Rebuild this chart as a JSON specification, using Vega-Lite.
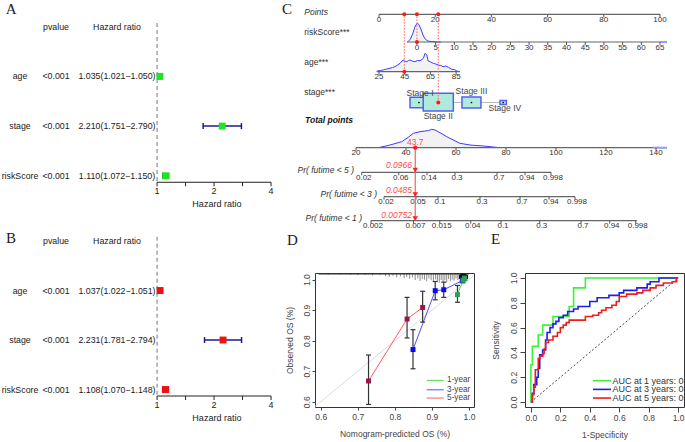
{
"$schema":"https://vega.github.io/schema/vega-lite/v6.json",
"padding":0,
"background":"white",
"config":{"view":{"stroke":null},"font":"Liberation Sans","text":{"font":"Liberation Sans"},"axis":{"labelFont":"Liberation Sans","titleFont":"Liberation Sans","labelOverlap":false,"grid":false,"domain":false,"labelFlush":false}},
"datasets":{
"tabAB":[{"c":0.1965,"row":0,"t":"pvalue"},{"c":0.4105,"row":0,"t":"Hazard ratio"},
{"c":0.0702,"row":1,"t":"age"},{"c":0.1965,"row":1,"t":"<0.001"},{"c":0.4105,"row":1,"t":"1.035(1.021−1.050)"},
{"c":0.0702,"row":2,"t":"stage"},{"c":0.1965,"row":2,"t":"<0.001"},{"c":0.4105,"row":2,"t":"2.210(1.751−2.790)"},
{"c":0.0702,"row":3,"t":"riskScore"},{"c":0.1965,"row":3,"t":"<0.001"},{"c":0.4105,"row":3,"t":"1.110(1.072−1.150)"},
{"c":0.1965,"row":4.306,"t":"pvalue"},{"c":0.4105,"row":4.306,"t":"Hazard ratio"},
{"c":0.0702,"row":5.308,"t":"age"},{"c":0.1965,"row":5.308,"t":"<0.001"},{"c":0.4105,"row":5.308,"t":"1.037(1.022−1.051)"},
{"c":0.0702,"row":6.304,"t":"stage"},{"c":0.1965,"row":6.304,"t":"<0.001"},{"c":0.4105,"row":6.304,"t":"2.231(1.781−2.794)"},
{"c":0.0702,"row":7.30,"t":"riskScore"},{"c":0.1965,"row":7.30,"t":"<0.001"},{"c":0.4105,"row":7.30,"t":"1.108(1.070−1.148)"}],
"lettersAB":[{"c":0.039,"row":-0.36,"t":"A"},{"c":0.039,"row":4.242,"t":"B"}],
"hrAB":[{"panel":"A","row":1,"hr":1.035,"lo":1.021,"hi":1.050},{"panel":"A","row":2,"hr":2.210,"lo":1.751,"hi":2.790},{"panel":"A","row":3,"hr":1.110,"lo":1.072,"hi":1.150},
{"panel":"B","row":5.308,"hr":1.037,"lo":1.022,"hi":1.051},{"panel":"B","row":6.304,"hr":2.231,"lo":1.781,"hi":2.794},{"panel":"B","row":7.30,"hr":1.108,"lo":1.070,"hi":1.148}],
"dashAB":[{"a":1,"top":-0.074,"bot":3.13},{"a":1,"top":4.226,"bot":7.43}],
"axesAB":[{"a":1,"b":4,"row":3.13},{"a":1,"b":4,"row":7.43}],
"ticksAB":[{"v":1,"l":"1","row":3.13},{"v":1.4142,"l":"","row":3.13},{"v":2,"l":"2","row":3.13},{"v":2.8284,"l":"","row":3.13},{"v":4,"l":"4","row":3.13},
{"v":1,"l":"1","row":7.43},{"v":1.4142,"l":"","row":7.43},{"v":2,"l":"2","row":7.43},{"v":2.8284,"l":"","row":7.43},{"v":4,"l":"4","row":7.43}],
"titlesAB":[{"v":2.07,"row":3.13,"t":"Hazard ratio"},{"v":2.07,"row":7.43,"t":"Hazard ratio"}],
"riskDens":[{"pos":10.0,"top":4.2},{"pos":10.3,"top":4.17},{"pos":11.2,"top":3.9},{"pos":12.1,"top":3.3},{"pos":12.9,"top":2.6},{"pos":13.6,"top":2.33},{"pos":14.2,"top":2.45},{"pos":14.9,"top":2.9},{"pos":15.8,"top":3.6},{"pos":16.6,"top":3.95},{"pos":17.4,"top":4.1},{"pos":18.5,"top":4.15},{"pos":20,"top":4.18},{"pos":22,"top":4.2}],
"ageDens":[{"pos":-0.8,"top":7.12},{"pos":0.5,"top":7.05},{"pos":1.5,"top":7.0},{"pos":2.7,"top":6.9},{"pos":3.9,"top":6.83},{"pos":4.8,"top":6.75},{"pos":5.7,"top":6.67},{"pos":6.6,"top":6.5},{"pos":7.5,"top":6.33},{"pos":8.2,"top":6.1},{"pos":8.6,"top":6.0},{"pos":9.2,"top":6.12},{"pos":9.9,"top":6.17},{"pos":10.5,"top":6.05},{"pos":11.0,"top":6.0},{"pos":11.9,"top":6.12},{"pos":12.8,"top":6.17},{"pos":13.7,"top":6.05},{"pos":14.6,"top":6.07},{"pos":15.3,"top":5.95},{"pos":15.8,"top":5.83},{"pos":16.4,"top":5.33},{"pos":17.0,"top":5.5},{"pos":17.5,"top":6.1},{"pos":18.4,"top":6.2},{"pos":19.3,"top":6.33},{"pos":20.2,"top":6.4},{"pos":21.1,"top":6.5},{"pos":22.0,"top":6.55},{"pos":22.8,"top":6.67},{"pos":23.7,"top":6.6},{"pos":24.7,"top":6.73},{"pos":25.9,"top":6.93},{"pos":26.8,"top":6.95},{"pos":27.7,"top":7.1},{"pos":28.8,"top":7.17}],
"upAxes":[{"from":0,"to":100,"lvl":1.43},{"from":10,"to":101,"lvl":4.2},{"from":-0.8,"to":28.8,"lvl":7.17}],
"upTicks":[{"pos":0,"lbl":"0","lvl":1.43},{"pos":20,"lbl":"20","lvl":1.43},{"pos":40,"lbl":"40","lvl":1.43},{"pos":60,"lbl":"60","lvl":1.43},{"pos":80,"lbl":"80","lvl":1.43},{"pos":100,"lbl":"100","lvl":1.43},
{"pos":13.5,"lbl":"0","lvl":4.2},{"pos":20.15,"lbl":"5","lvl":4.2},{"pos":26.81,"lbl":"10","lvl":4.2},{"pos":33.46,"lbl":"15","lvl":4.2},{"pos":40.12,"lbl":"20","lvl":4.2},{"pos":46.77,"lbl":"25","lvl":4.2},{"pos":53.42,"lbl":"30","lvl":4.2},{"pos":60.08,"lbl":"35","lvl":4.2},{"pos":66.73,"lbl":"40","lvl":4.2},{"pos":73.38,"lbl":"45","lvl":4.2},{"pos":80.04,"lbl":"50","lvl":4.2},{"pos":86.69,"lbl":"55","lvl":4.2},{"pos":93.35,"lbl":"60","lvl":4.2},{"pos":100,"lbl":"65","lvl":4.2},
{"pos":0,"lbl":"25","lvl":7.17},{"pos":9.15,"lbl":"45","lvl":7.17},{"pos":18.3,"lbl":"65","lvl":7.17},{"pos":27.45,"lbl":"85","lvl":7.17}],
"rowLab":[{"pos":-26.6,"lvl":3.15,"t":"riskScore***"},{"pos":-26.6,"lvl":6.2,"t":"age***"},{"pos":-26.6,"lvl":9.2,"t":"stage***"}],
"stage":[{"stage":"Stage I","pos":14.2,"n":70,"lvl":10.25,"lp":14.6,"ll":9.3},{"stage":"Stage II","pos":21.1,"n":200,"lvl":10.22,"lp":21.1,"ll":11.6},{"stage":"Stage III","pos":32.9,"n":80,"lvl":10.25,"lp":32.9,"ll":9.1},{"stage":"Stage IV","pos":44.2,"n":9,"lvl":10.25,"lp":44.8,"ll":10.77}],
"redUp":[{"pos":13.5,"lvl":4.2},{"pos":9.0,"lvl":7.17},{"pos":21.1,"lvl":10.25}],
"redDots":[{"pos":9.0,"lvl":1.43},{"pos":13.5,"lvl":1.43},{"pos":21.1,"lvl":1.43},{"pos":13.5,"lvl":4.2},{"pos":9.0,"lvl":7.17},{"pos":21.1,"lvl":10.25}],
"totDens":[{"pos":28.9,"top":14.77},{"pos":33.6,"top":14.5},{"pos":38.3,"top":14.17},{"pos":40.9,"top":13.73},{"pos":42.9,"top":13.33},{"pos":45.6,"top":13.17},{"pos":47.6,"top":13.1},{"pos":48.9,"top":13.07},{"pos":50.3,"top":12.93},{"pos":51.6,"top":13.0},{"pos":53.6,"top":13.27},{"pos":56.3,"top":13.67},{"pos":58.9,"top":14.0},{"pos":61.6,"top":14.33},{"pos":65.6,"top":14.5},{"pos":70.9,"top":14.6},{"pos":73.6,"top":14.67},{"pos":77.6,"top":14.77}],
"lowAxes":[{"from":20,"to":144.4,"lvl":14.77},{"from":22.3,"to":98,"lvl":17.23},{"from":31.2,"to":107.6,"lvl":19.67},{"from":26,"to":132.3,"lvl":22.07}],
"totTicks":[{"pos":20,"lbl":"20","lvl":14.77},{"pos":40,"lbl":"40","lvl":14.77},{"pos":60,"lbl":"60","lvl":14.77},{"pos":80,"lbl":"80","lvl":14.77},{"pos":100,"lbl":"100","lvl":14.77},{"pos":120,"lbl":"120","lvl":14.77},{"pos":140,"lbl":"140","lvl":14.77}],
"prTicks":[{"pos":22.3,"lbl":"0.02","lvl":17.23},{"pos":37.1,"lbl":"0.06","lvl":17.23},{"pos":48.4,"lbl":"0.14","lvl":17.23},{"pos":59.6,"lbl":"0.3","lvl":17.23},{"pos":76.4,"lbl":"0.7","lvl":17.23},{"pos":87.6,"lbl":"0.94","lvl":17.23},{"pos":98,"lbl":"0.998","lvl":17.23},
{"pos":31.2,"lbl":"0.02","lvl":19.67},{"pos":44.0,"lbl":"0.05","lvl":19.67},{"pos":52.8,"lbl":"0.1","lvl":19.67},{"pos":69.6,"lbl":"0.3","lvl":19.67},{"pos":85.6,"lbl":"0.7","lvl":19.67},{"pos":97.2,"lbl":"0.94","lvl":19.67},{"pos":107.6,"lbl":"0.998","lvl":19.67},
{"pos":26,"lbl":"0.002","lvl":22.07},{"pos":43.0,"lbl":"0.007","lvl":22.07},{"pos":53.5,"lbl":"0.015","lvl":22.07},{"pos":65.9,"lbl":"0.04","lvl":22.07},{"pos":78,"lbl":"0.1","lvl":22.07},{"pos":93.5,"lbl":"0.3","lvl":22.07},{"pos":110,"lbl":"0.7","lvl":22.07},{"pos":121.5,"lbl":"0.94","lvl":22.07},{"pos":131.9,"lbl":"0.998","lvl":22.07}],
"prLab":[{"pos":19.2,"lvl":17.0,"t":"Pr( futime < 5 )"},{"pos":28.4,"lvl":19.43,"t":"Pr( futime < 3 )"},{"pos":22.4,"lvl":21.83,"t":"Pr( futime < 1 )"}],
"prVal":[{"pos":42.4,"lvl":16.5,"t":"0.0966"},{"pos":42.4,"lvl":19.0,"t":"0.0485"},{"pos":42.4,"lvl":21.5,"t":"0.00752"}],
"tri":[{"pos":43.7,"lvl":17.02},{"pos":43.7,"lvl":19.46},{"pos":43.7,"lvl":21.86}],
"dCal":[{"g":"5-year","x":0.729,"y":0.668,"lo":0.591,"hi":0.753},{"g":"5-year","x":0.833,"y":0.871,"lo":0.809,"hi":0.942},{"g":"5-year","x":0.875,"y":0.909,"lo":0.861,"hi":0.962},
{"g":"3-year","x":0.849,"y":0.771,"lo":0.708,"hi":0.836},{"g":"3-year","x":0.909,"y":0.964,"lo":0.934,"hi":0.994},{"g":"3-year","x":0.932,"y":0.967,"lo":0.942,"hi":0.992},{"g":"3-year","x":0.982,"y":0.997,"lo":0.99,"hi":1.004},
{"g":"1-year","x":0.969,"y":0.951,"lo":0.926,"hi":0.981},{"g":"1-year","x":0.984,"y":0.998,"lo":0.993,"hi":1.003},{"g":"1-year","x":0.988,"y":1.005,"lo":1.0,"hi":1.01}],
"dRug":[{"p":0.62,"lo":1.016},{"p":0.65,"lo":1.017},{"p":0.68,"lo":1.016},{"p":0.70,"lo":1.015},{"p":0.72,"lo":1.016},{"p":0.74,"lo":1.014},{"p":0.76,"lo":1.015},{"p":0.775,"lo":1.012},{"p":0.785,"lo":1.009},{"p":0.795,"lo":1.013},{"p":0.805,"lo":1.008},{"p":0.815,"lo":1.011},{"p":0.825,"lo":1.005},{"p":0.832,"lo":1.009},{"p":0.84,"lo":1.003},{"p":0.848,"lo":1.007},{"p":0.855,"lo":0.999},{"p":0.862,"lo":1.004},{"p":0.868,"lo":0.996},{"p":0.874,"lo":1.002},{"p":0.88,"lo":1.0},{"p":0.886,"lo":0.995},{"p":0.892,"lo":1.004},{"p":0.898,"lo":0.998},{"p":0.904,"lo":0.992},{"p":0.91,"lo":1.001},{"p":0.915,"lo":0.996},{"p":0.92,"lo":0.99},{"p":0.925,"lo":0.999},{"p":0.93,"lo":0.993},{"p":0.935,"lo":0.998},{"p":0.94,"lo":0.992},{"p":0.945,"lo":1.002},{"p":0.95,"lo":0.995},{"p":0.955,"lo":1.0},{"p":0.96,"lo":0.997},{"p":0.965,"lo":1.004},{"p":0.97,"lo":0.999},{"p":0.975,"lo":1.005},{"p":0.98,"lo":1.001},{"p":0.985,"lo":1.004}],
"dBlack":[{"x":0.978,"y":1.009},{"x":0.982,"y":1.013},{"x":0.985,"y":1.006},{"x":0.988,"y":1.012},{"x":0.99,"y":1.003},{"x":0.992,"y":1.009}],
"dLeg":[{"g":"1-year","y":0.670,"a":0.886,"b":0.932,"tx":0.941},{"g":"3-year","y":0.639,"a":0.886,"b":0.932,"tx":0.941},{"g":"5-year","y":0.612,"a":0.886,"b":0.932,"tx":0.941}],
"eLeg":[{"g":"1-year","t":"AUC at 1 years: 0.847","y":0.172,"a":0.422,"b":0.544,"tx":0.555},{"g":"3-year","t":"AUC at 3 years: 0.781","y":0.102,"a":0.422,"b":0.544,"tx":0.555},{"g":"5-year","t":"AUC at 5 years: 0.736","y":0.032,"a":0.422,"b":0.544,"tx":0.555}],
"eRoc":[
{"g":"1-year","i":0,"x":0,"y":0},{"g":"1-year","i":1,"x":0,"y":0.3},{"g":"1-year","i":2,"x":0.01,"y":0.3},{"g":"1-year","i":3,"x":0.01,"y":0.45},{"g":"1-year","i":4,"x":0.05,"y":0.45},{"g":"1-year","i":5,"x":0.05,"y":0.54},{"g":"1-year","i":6,"x":0.08,"y":0.54},{"g":"1-year","i":7,"x":0.08,"y":0.62},{"g":"1-year","i":8,"x":0.15,"y":0.62},{"g":"1-year","i":9,"x":0.15,"y":0.69},{"g":"1-year","i":10,"x":0.26,"y":0.69},{"g":"1-year","i":11,"x":0.26,"y":0.77},{"g":"1-year","i":12,"x":0.29,"y":0.77},{"g":"1-year","i":13,"x":0.29,"y":0.92},{"g":"1-year","i":14,"x":0.37,"y":0.92},{"g":"1-year","i":15,"x":0.37,"y":1.0},{"g":"1-year","i":16,"x":1.0,"y":1.0},
{"g":"3-year","i":0,"x":0,"y":0},{"g":"3-year","i":1,"x":0.01,"y":0.0},{"g":"3-year","i":2,"x":0.01,"y":0.07},{"g":"3-year","i":3,"x":0.02,"y":0.07},{"g":"3-year","i":4,"x":0.02,"y":0.14},{"g":"3-year","i":5,"x":0.04,"y":0.14},{"g":"3-year","i":6,"x":0.04,"y":0.2},{"g":"3-year","i":7,"x":0.05,"y":0.2},{"g":"3-year","i":8,"x":0.05,"y":0.27},{"g":"3-year","i":9,"x":0.06,"y":0.27},{"g":"3-year","i":10,"x":0.06,"y":0.38},{"g":"3-year","i":11,"x":0.08,"y":0.38},{"g":"3-year","i":12,"x":0.08,"y":0.42},{"g":"3-year","i":13,"x":0.1,"y":0.42},{"g":"3-year","i":14,"x":0.1,"y":0.5},{"g":"3-year","i":15,"x":0.11,"y":0.5},{"g":"3-year","i":16,"x":0.11,"y":0.56},{"g":"3-year","i":17,"x":0.13,"y":0.56},{"g":"3-year","i":18,"x":0.13,"y":0.6},{"g":"3-year","i":19,"x":0.15,"y":0.6},{"g":"3-year","i":20,"x":0.15,"y":0.63},{"g":"3-year","i":21,"x":0.17,"y":0.63},{"g":"3-year","i":22,"x":0.17,"y":0.65},{"g":"3-year","i":23,"x":0.19,"y":0.65},{"g":"3-year","i":24,"x":0.19,"y":0.68},{"g":"3-year","i":25,"x":0.22,"y":0.68},{"g":"3-year","i":26,"x":0.22,"y":0.7},{"g":"3-year","i":27,"x":0.25,"y":0.7},{"g":"3-year","i":28,"x":0.25,"y":0.73},{"g":"3-year","i":29,"x":0.29,"y":0.73},{"g":"3-year","i":30,"x":0.29,"y":0.75},{"g":"3-year","i":31,"x":0.32,"y":0.75},{"g":"3-year","i":32,"x":0.32,"y":0.77},{"g":"3-year","i":33,"x":0.4,"y":0.77},{"g":"3-year","i":34,"x":0.4,"y":0.81},{"g":"3-year","i":35,"x":0.45,"y":0.81},{"g":"3-year","i":36,"x":0.45,"y":0.84},{"g":"3-year","i":37,"x":0.53,"y":0.84},{"g":"3-year","i":38,"x":0.53,"y":0.86},{"g":"3-year","i":39,"x":0.6,"y":0.86},{"g":"3-year","i":40,"x":0.6,"y":0.88},{"g":"3-year","i":41,"x":0.63,"y":0.88},{"g":"3-year","i":42,"x":0.63,"y":0.9},{"g":"3-year","i":43,"x":0.72,"y":0.9},{"g":"3-year","i":44,"x":0.72,"y":0.92},{"g":"3-year","i":45,"x":0.79,"y":0.92},{"g":"3-year","i":46,"x":0.79,"y":0.95},{"g":"3-year","i":47,"x":0.81,"y":0.95},{"g":"3-year","i":48,"x":0.81,"y":0.97},{"g":"3-year","i":49,"x":0.87,"y":0.97},{"g":"3-year","i":50,"x":0.87,"y":1.0},{"g":"3-year","i":51,"x":1.0,"y":1.0},
{"g":"5-year","i":0,"x":0,"y":0},{"g":"5-year","i":1,"x":0.01,"y":0.0},{"g":"5-year","i":2,"x":0.01,"y":0.06},{"g":"5-year","i":3,"x":0.02,"y":0.06},{"g":"5-year","i":4,"x":0.02,"y":0.12},{"g":"5-year","i":5,"x":0.03,"y":0.12},{"g":"5-year","i":6,"x":0.03,"y":0.26},{"g":"5-year","i":7,"x":0.05,"y":0.26},{"g":"5-year","i":8,"x":0.05,"y":0.35},{"g":"5-year","i":9,"x":0.06,"y":0.35},{"g":"5-year","i":10,"x":0.06,"y":0.37},{"g":"5-year","i":11,"x":0.08,"y":0.37},{"g":"5-year","i":12,"x":0.08,"y":0.39},{"g":"5-year","i":13,"x":0.09,"y":0.39},{"g":"5-year","i":14,"x":0.09,"y":0.43},{"g":"5-year","i":15,"x":0.1,"y":0.43},{"g":"5-year","i":16,"x":0.1,"y":0.48},{"g":"5-year","i":17,"x":0.12,"y":0.48},{"g":"5-year","i":18,"x":0.12,"y":0.5},{"g":"5-year","i":19,"x":0.15,"y":0.5},{"g":"5-year","i":20,"x":0.15,"y":0.53},{"g":"5-year","i":21,"x":0.18,"y":0.53},{"g":"5-year","i":22,"x":0.18,"y":0.56},{"g":"5-year","i":23,"x":0.2,"y":0.56},{"g":"5-year","i":24,"x":0.2,"y":0.6},{"g":"5-year","i":25,"x":0.22,"y":0.6},{"g":"5-year","i":26,"x":0.22,"y":0.62},{"g":"5-year","i":27,"x":0.24,"y":0.62},{"g":"5-year","i":28,"x":0.24,"y":0.64},{"g":"5-year","i":29,"x":0.26,"y":0.64},{"g":"5-year","i":30,"x":0.26,"y":0.66},{"g":"5-year","i":31,"x":0.37,"y":0.66},{"g":"5-year","i":32,"x":0.37,"y":0.69},{"g":"5-year","i":33,"x":0.42,"y":0.69},{"g":"5-year","i":34,"x":0.42,"y":0.7},{"g":"5-year","i":35,"x":0.46,"y":0.7},{"g":"5-year","i":36,"x":0.46,"y":0.72},{"g":"5-year","i":37,"x":0.48,"y":0.72},{"g":"5-year","i":38,"x":0.48,"y":0.74},{"g":"5-year","i":39,"x":0.51,"y":0.74},{"g":"5-year","i":40,"x":0.51,"y":0.76},{"g":"5-year","i":41,"x":0.55,"y":0.76},{"g":"5-year","i":42,"x":0.55,"y":0.78},{"g":"5-year","i":43,"x":0.58,"y":0.78},{"g":"5-year","i":44,"x":0.58,"y":0.81},{"g":"5-year","i":45,"x":0.6,"y":0.81},{"g":"5-year","i":46,"x":0.6,"y":0.85},{"g":"5-year","i":47,"x":0.65,"y":0.85},{"g":"5-year","i":48,"x":0.65,"y":0.87},{"g":"5-year","i":49,"x":0.72,"y":0.87},{"g":"5-year","i":50,"x":0.72,"y":0.88},{"g":"5-year","i":51,"x":0.76,"y":0.88},{"g":"5-year","i":52,"x":0.76,"y":0.9},{"g":"5-year","i":53,"x":0.81,"y":0.9},{"g":"5-year","i":54,"x":0.81,"y":0.92},{"g":"5-year","i":55,"x":0.85,"y":0.92},{"g":"5-year","i":56,"x":0.85,"y":0.94},{"g":"5-year","i":57,"x":0.9,"y":0.94},{"g":"5-year","i":58,"x":0.9,"y":0.96},{"g":"5-year","i":59,"x":0.96,"y":0.96},{"g":"5-year","i":60,"x":0.96,"y":0.97},{"g":"5-year","i":61,"x":0.99,"y":0.97},{"g":"5-year","i":62,"x":0.99,"y":1.0},{"g":"5-year","i":63,"x":1.0,"y":1.0}]
},
"spacing":30,
"bounds":"flush",
"resolve":{"scale":{"color":"independent","fill":"independent","size":"independent"}},
"hconcat":[
 {"width":285,"height":396,"resolve":{"scale":{"x":"independent"}},
  "layer":[
   {"data":{"name":"tabAB"},"mark":{"type":"text","fontSize":8.8,"color":"#1a1a1a","baseline":"middle"},
    "encoding":{"x":{"field":"c","type":"quantitative","scale":{"domain":[0,1],"nice":false,"zero":false},"axis":null},
     "y":{"field":"row","type":"quantitative","scale":{"domain":[-0.537,7.43],"reverse":true,"nice":false,"zero":false},"axis":null},
     "text":{"field":"t"}}},
   {"data":{"name":"lettersAB"},"mark":{"type":"text","fontSize":15,"font":"Liberation Serif","color":"#1a1a1a","baseline":"middle"},
    "encoding":{"x":{"field":"c","type":"quantitative","scale":{"domain":[0,1],"nice":false,"zero":false},"axis":null},
     "y":{"field":"row","type":"quantitative","scale":{"domain":[-0.537,7.43],"reverse":true,"nice":false,"zero":false},"axis":null},
     "text":{"field":"t"}}},
   {"layer":[
     {"data":{"name":"dashAB"},"mark":{"type":"rule","strokeDash":[4,3],"color":"#777","strokeWidth":1},
      "encoding":{"x":{"field":"a","type":"quantitative","scale":{"type":"log","base":2,"domain":[0.148,4.74],"nice":false},"axis":null},
       "y":{"field":"top","type":"quantitative","scale":{"domain":[-0.537,7.43],"reverse":true,"nice":false,"zero":false},"axis":null},"y2":{"field":"bot"}}},
     {"data":{"name":"axesAB"},"mark":{"type":"rule","color":"#222","strokeWidth":1},
      "encoding":{"x":{"field":"a","type":"quantitative","scale":{"type":"log","base":2,"domain":[0.148,4.74],"nice":false},"axis":null},"x2":{"field":"b"},
       "y":{"field":"row","type":"quantitative","scale":{"domain":[-0.537,7.43],"reverse":true,"nice":false,"zero":false},"axis":null}}},
     {"data":{"name":"ticksAB"},"mark":{"type":"point","shape":"M0,0L0,2","size":16,"filled":false,"color":"#222","strokeWidth":1,"opacity":1},
      "encoding":{"x":{"field":"v","type":"quantitative","scale":{"type":"log","base":2,"domain":[0.148,4.74],"nice":false},"axis":null},
       "y":{"field":"row","type":"quantitative","scale":{"domain":[-0.537,7.43],"reverse":true,"nice":false,"zero":false},"axis":null}}},
     {"data":{"name":"ticksAB"},"mark":{"type":"text","fontSize":9,"color":"#222","baseline":"middle","dy":8.5},
      "encoding":{"x":{"field":"v","type":"quantitative","scale":{"type":"log","base":2,"domain":[0.148,4.74],"nice":false},"axis":null},
       "y":{"field":"row","type":"quantitative","scale":{"domain":[-0.537,7.43],"reverse":true,"nice":false,"zero":false},"axis":null},"text":{"field":"l"}}},
     {"data":{"name":"titlesAB"},"mark":{"type":"text","fontSize":9,"color":"#222","baseline":"middle","dy":22},
      "encoding":{"x":{"field":"v","type":"quantitative","scale":{"type":"log","base":2,"domain":[0.148,4.74],"nice":false},"axis":null},
       "y":{"field":"row","type":"quantitative","scale":{"domain":[-0.537,7.43],"reverse":true,"nice":false,"zero":false},"axis":null},"text":{"field":"t"}}},
     {"data":{"name":"hrAB"},"mark":{"type":"rule","color":"#1c1c8a","strokeWidth":1.5},
      "encoding":{"x":{"field":"lo","type":"quantitative","scale":{"type":"log","base":2,"domain":[0.148,4.74],"nice":false},"axis":null},"x2":{"field":"hi"},
       "y":{"field":"row","type":"quantitative","scale":{"domain":[-0.537,7.43],"reverse":true,"nice":false,"zero":false},"axis":null}}},
     {"data":{"name":"hrAB"},"mark":{"type":"point","shape":"M0,-1L0,1","size":36,"filled":false,"color":"#1c1c8a","strokeWidth":1.5,"opacity":1},
      "encoding":{"x":{"field":"lo","type":"quantitative","scale":{"type":"log","base":2,"domain":[0.148,4.74],"nice":false},"axis":null},
       "y":{"field":"row","type":"quantitative","scale":{"domain":[-0.537,7.43],"reverse":true,"nice":false,"zero":false},"axis":null}}},
     {"data":{"name":"hrAB"},"mark":{"type":"point","shape":"M0,-1L0,1","size":36,"filled":false,"color":"#1c1c8a","strokeWidth":1.5,"opacity":1},
      "encoding":{"x":{"field":"hi","type":"quantitative","scale":{"type":"log","base":2,"domain":[0.148,4.74],"nice":false},"axis":null},
       "y":{"field":"row","type":"quantitative","scale":{"domain":[-0.537,7.43],"reverse":true,"nice":false,"zero":false},"axis":null}}},
     {"data":{"name":"hrAB"},"mark":{"type":"point","shape":"square","filled":true,"size":48,"opacity":1},
      "encoding":{"x":{"field":"hr","type":"quantitative","scale":{"type":"log","base":2,"domain":[0.148,4.74],"nice":false},"axis":null},
       "y":{"field":"row","type":"quantitative","scale":{"domain":[-0.537,7.43],"reverse":true,"nice":false,"zero":false},"axis":null},
       "color":{"field":"panel","type":"nominal","scale":{"domain":["A","B"],"range":["#1ee61e","#ee1111"]},"legend":null}}}
   ]}
  ]},
 {"spacing":33,"bounds":"flush","resolve":{"scale":{"color":"independent","fill":"independent","size":"independent"}},"vconcat":[
 {"width":370,"height":240,"resolve":{"scale":{"x":"independent"}},
  "layer":[
   {"layer":[
     {"data":{"name":"riskDens"},"mark":{"type":"area","fill":"#ececec","line":{"color":"#3c3cff","strokeWidth":1}},
      "encoding":{"x":{"field":"pos","type":"quantitative","scale":{"domain":[-22.776,108.897],"nice":false,"zero":false},"axis":null},
       "y":{"field":"top","type":"quantitative","scale":{"domain":[0,24],"reverse":true,"nice":false,"zero":false},"axis":null},"y2":{"datum":4.2}}},
     {"data":{"name":"ageDens"},"mark":{"type":"area","fill":"#ececec","line":{"color":"#3c3cff","strokeWidth":1}},
      "encoding":{"x":{"field":"pos","type":"quantitative","scale":{"domain":[-22.776,108.897],"nice":false,"zero":false},"axis":null},
       "y":{"field":"top","type":"quantitative","scale":{"domain":[0,24],"reverse":true,"nice":false,"zero":false},"axis":null},"y2":{"datum":7.17}}},
     {"data":{"name":"upAxes"},"mark":{"type":"rule","color":"#666","strokeWidth":1.2},
      "encoding":{"x":{"field":"from","type":"quantitative","scale":{"domain":[-22.776,108.897],"nice":false,"zero":false},"axis":null},"x2":{"field":"to"},
       "y":{"field":"lvl","type":"quantitative","scale":{"domain":[0,24],"reverse":true,"nice":false,"zero":false},"axis":null}}},
     {"data":{"values":[{"from":100,"to":102.5,"lvl":4.2}]},"mark":{"type":"rule","color":"#9a9aff","strokeWidth":2},
      "encoding":{"x":{"field":"from","type":"quantitative","scale":{"domain":[-22.776,108.897],"nice":false,"zero":false},"axis":null},"x2":{"field":"to"},
       "y":{"field":"lvl","type":"quantitative","scale":{"domain":[0,24],"reverse":true,"nice":false,"zero":false},"axis":null}}},
     {"data":{"name":"upTicks"},"mark":{"type":"point","shape":"M0,0L0,2","size":9,"filled":false,"color":"#555","strokeWidth":1,"opacity":1},
      "encoding":{"x":{"field":"pos","type":"quantitative","scale":{"domain":[-22.776,108.897],"nice":false,"zero":false},"axis":null},
       "y":{"field":"lvl","type":"quantitative","scale":{"domain":[0,24],"reverse":true,"nice":false,"zero":false},"axis":null}}},
     {"data":{"name":"upTicks"},"mark":{"type":"text","fontSize":8,"color":"#333","dy":5.5,"baseline":"middle"},
      "encoding":{"x":{"field":"pos","type":"quantitative","scale":{"domain":[-22.776,108.897],"nice":false,"zero":false},"axis":null},
       "y":{"field":"lvl","type":"quantitative","scale":{"domain":[0,24],"reverse":true,"nice":false,"zero":false},"axis":null},"text":{"field":"lbl"}}},
     {"data":{"name":"rowLab"},"mark":{"type":"text","align":"left","fontSize":8.5,"color":"#333","baseline":"middle"},
      "encoding":{"x":{"field":"pos","type":"quantitative","scale":{"domain":[-22.776,108.897],"nice":false,"zero":false},"axis":null},
       "y":{"field":"lvl","type":"quantitative","scale":{"domain":[0,24],"reverse":true,"nice":false,"zero":false},"axis":null},"text":{"field":"t"}}},
     {"data":{"values":[{"pos":-26.6,"lvl":1.15,"t":"Points"}]},"mark":{"type":"text","align":"left","fontSize":8.5,"fontStyle":"italic","color":"#333","baseline":"middle"},
      "encoding":{"x":{"field":"pos","type":"quantitative","scale":{"domain":[-22.776,108.897],"nice":false,"zero":false},"axis":null},
       "y":{"field":"lvl","type":"quantitative","scale":{"domain":[0,24],"reverse":true,"nice":false,"zero":false},"axis":null},"text":{"field":"t"}}},
     {"data":{"values":[{"pos":-26.3,"lvl":12.0,"t":"Total points"}]},"mark":{"type":"text","align":"left","fontSize":8.5,"fontStyle":"italic","fontWeight":"bold","color":"#111","baseline":"middle"},
      "encoding":{"x":{"field":"pos","type":"quantitative","scale":{"domain":[-22.776,108.897],"nice":false,"zero":false},"axis":null},
       "y":{"field":"lvl","type":"quantitative","scale":{"domain":[0,24],"reverse":true,"nice":false,"zero":false},"axis":null},"text":{"field":"t"}}},
     {"data":{"values":[{"pos":-32.7,"lvl":0.85,"t":"C"}]},"mark":{"type":"text","fontSize":15,"font":"Liberation Serif","color":"#1a1a1a","baseline":"middle"},
      "encoding":{"x":{"field":"pos","type":"quantitative","scale":{"domain":[-22.776,108.897],"nice":false,"zero":false},"axis":null},
       "y":{"field":"lvl","type":"quantitative","scale":{"domain":[0,24],"reverse":true,"nice":false,"zero":false},"axis":null},"text":{"field":"t"}}},
     {"data":{"values":[{"from":14.2,"to":44.2,"lvl":10.25}]},"mark":{"type":"rule","color":"#bbbbbb","strokeWidth":1},
      "encoding":{"x":{"field":"from","type":"quantitative","scale":{"domain":[-22.776,108.897],"nice":false,"zero":false},"axis":null},"x2":{"field":"to"},
       "y":{"field":"lvl","type":"quantitative","scale":{"domain":[0,24],"reverse":true,"nice":false,"zero":false},"axis":null}}},
     {"data":{"name":"stage"},"mark":{"type":"point","shape":"M-1.7,-1H1.7V1H-1.7Z","filled":true,"fill":"#b0eadc","stroke":"#5062f0","strokeWidth":1.5,"opacity":1},
      "encoding":{"x":{"field":"pos","type":"quantitative","scale":{"domain":[-22.776,108.897],"nice":false,"zero":false},"axis":null},
       "y":{"field":"lvl","type":"quantitative","scale":{"domain":[0,24],"reverse":true,"nice":false,"zero":false},"axis":null},
       "size":{"field":"n","type":"quantitative","scale":{"domain":[0,200],"range":[0,313]},"legend":null}}},
     {"data":{"name":"stage"},"mark":{"type":"point","shape":"circle","filled":true,"size":3,"color":"#000","opacity":1},
      "encoding":{"x":{"field":"pos","type":"quantitative","scale":{"domain":[-22.776,108.897],"nice":false,"zero":false},"axis":null},
       "y":{"field":"lvl","type":"quantitative","scale":{"domain":[0,24],"reverse":true,"nice":false,"zero":false},"axis":null}}},
     {"data":{"name":"stage"},"mark":{"type":"text","fontSize":8.5,"color":"#444","baseline":"middle"},
      "encoding":{"x":{"field":"lp","type":"quantitative","scale":{"domain":[-22.776,108.897],"nice":false,"zero":false},"axis":null},
       "y":{"field":"ll","type":"quantitative","scale":{"domain":[0,24],"reverse":true,"nice":false,"zero":false},"axis":null},"text":{"field":"stage"}}},
     {"data":{"name":"redUp"},"mark":{"type":"rule","color":"#ff5a5a","strokeDash":[1.5,1.5],"strokeWidth":1},
      "encoding":{"x":{"field":"pos","type":"quantitative","scale":{"domain":[-22.776,108.897],"nice":false,"zero":false},"axis":null},
       "y":{"field":"lvl","type":"quantitative","scale":{"domain":[0,24],"reverse":true,"nice":false,"zero":false},"axis":null},"y2":{"datum":1.43}}},
     {"data":{"name":"redDots"},"mark":{"type":"point","shape":"circle","filled":true,"size":16,"color":"#ff1a1a","opacity":1},
      "encoding":{"x":{"field":"pos","type":"quantitative","scale":{"domain":[-22.776,108.897],"nice":false,"zero":false},"axis":null},
       "y":{"field":"lvl","type":"quantitative","scale":{"domain":[0,24],"reverse":true,"nice":false,"zero":false},"axis":null}}}
   ]},
   {"layer":[
     {"data":{"name":"totDens"},"mark":{"type":"area","fill":"#ececec","line":{"color":"#3c3cff","strokeWidth":1}},
      "encoding":{"x":{"field":"pos","type":"quantitative","scale":{"domain":[3.6,151.6],"nice":false,"zero":false},"axis":null},
       "y":{"field":"top","type":"quantitative","scale":{"domain":[0,24],"reverse":true,"nice":false,"zero":false},"axis":null},"y2":{"datum":14.77}}},
     {"data":{"name":"lowAxes"},"mark":{"type":"rule","color":"#666","strokeWidth":1.2},
      "encoding":{"x":{"field":"from","type":"quantitative","scale":{"domain":[3.6,151.6],"nice":false,"zero":false},"axis":null},"x2":{"field":"to"},
       "y":{"field":"lvl","type":"quantitative","scale":{"domain":[0,24],"reverse":true,"nice":false,"zero":false},"axis":null}}},
     {"data":{"values":[{"from":138.8,"to":144.4,"lvl":14.77}]},"mark":{"type":"rule","color":"#9a9aff","strokeWidth":2},
      "encoding":{"x":{"field":"from","type":"quantitative","scale":{"domain":[3.6,151.6],"nice":false,"zero":false},"axis":null},"x2":{"field":"to"},
       "y":{"field":"lvl","type":"quantitative","scale":{"domain":[0,24],"reverse":true,"nice":false,"zero":false},"axis":null}}},
     {"data":{"name":"totTicks"},"mark":{"type":"point","shape":"M0,0L0,2","size":9,"filled":false,"color":"#555","strokeWidth":1,"opacity":1},
      "encoding":{"x":{"field":"pos","type":"quantitative","scale":{"domain":[3.6,151.6],"nice":false,"zero":false},"axis":null},
       "y":{"field":"lvl","type":"quantitative","scale":{"domain":[0,24],"reverse":true,"nice":false,"zero":false},"axis":null}}},
     {"data":{"name":"totTicks"},"mark":{"type":"text","fontSize":8,"color":"#333","dy":5.5,"baseline":"middle"},
      "encoding":{"x":{"field":"pos","type":"quantitative","scale":{"domain":[3.6,151.6],"nice":false,"zero":false},"axis":null},
       "y":{"field":"lvl","type":"quantitative","scale":{"domain":[0,24],"reverse":true,"nice":false,"zero":false},"axis":null},"text":{"field":"lbl"}}},
     {"data":{"name":"prTicks"},"mark":{"type":"point","shape":"M0,0L0,2","size":9,"filled":false,"color":"#555","strokeWidth":1,"opacity":1},
      "encoding":{"x":{"field":"pos","type":"quantitative","scale":{"domain":[3.6,151.6],"nice":false,"zero":false},"axis":null},
       "y":{"field":"lvl","type":"quantitative","scale":{"domain":[0,24],"reverse":true,"nice":false,"zero":false},"axis":null}}},
     {"data":{"name":"prTicks"},"mark":{"type":"text","fontSize":8,"color":"#333","dy":5.5,"dx":2,"baseline":"middle"},
      "encoding":{"x":{"field":"pos","type":"quantitative","scale":{"domain":[3.6,151.6],"nice":false,"zero":false},"axis":null},
       "y":{"field":"lvl","type":"quantitative","scale":{"domain":[0,24],"reverse":true,"nice":false,"zero":false},"axis":null},"text":{"field":"lbl"}}},
     {"data":{"name":"prLab"},"mark":{"type":"text","align":"right","fontSize":8.5,"fontStyle":"italic","color":"#333","baseline":"middle"},
      "encoding":{"x":{"field":"pos","type":"quantitative","scale":{"domain":[3.6,151.6],"nice":false,"zero":false},"axis":null},
       "y":{"field":"lvl","type":"quantitative","scale":{"domain":[0,24],"reverse":true,"nice":false,"zero":false},"axis":null},"text":{"field":"t"}}},
     {"data":{"values":[{"pos":43.7,"a":14.77,"b":22.07}]},"mark":{"type":"rule","color":"#ff5a5a","strokeWidth":1.2},
      "encoding":{"x":{"field":"pos","type":"quantitative","scale":{"domain":[3.6,151.6],"nice":false,"zero":false},"axis":null},
       "y":{"field":"a","type":"quantitative","scale":{"domain":[0,24],"reverse":true,"nice":false,"zero":false},"axis":null},"y2":{"field":"b"}}},
     {"data":{"values":[{"pos":43.7,"lvl":14.77}]},"mark":{"type":"point","shape":"circle","filled":true,"size":18,"color":"#ff1a1a","opacity":1},
      "encoding":{"x":{"field":"pos","type":"quantitative","scale":{"domain":[3.6,151.6],"nice":false,"zero":false},"axis":null},
       "y":{"field":"lvl","type":"quantitative","scale":{"domain":[0,24],"reverse":true,"nice":false,"zero":false},"axis":null}}},
     {"data":{"values":[{"pos":43.7,"lvl":14.17,"t":"43.7"}]},"mark":{"type":"text","fontSize":8.5,"color":"#ff4d4d","baseline":"middle"},
      "encoding":{"x":{"field":"pos","type":"quantitative","scale":{"domain":[3.6,151.6],"nice":false,"zero":false},"axis":null},
       "y":{"field":"lvl","type":"quantitative","scale":{"domain":[0,24],"reverse":true,"nice":false,"zero":false},"axis":null},"text":{"field":"t"}}},
     {"data":{"name":"tri"},"mark":{"type":"point","shape":"triangle-down","filled":true,"size":30,"color":"#ff2020","opacity":1},
      "encoding":{"x":{"field":"pos","type":"quantitative","scale":{"domain":[3.6,151.6],"nice":false,"zero":false},"axis":null},
       "y":{"field":"lvl","type":"quantitative","scale":{"domain":[0,24],"reverse":true,"nice":false,"zero":false},"axis":null}}},
     {"data":{"name":"prVal"},"mark":{"type":"text","align":"right","fontSize":8.5,"fontStyle":"italic","color":"#ff4d4d","baseline":"middle"},
      "encoding":{"x":{"field":"pos","type":"quantitative","scale":{"domain":[3.6,151.6],"nice":false,"zero":false},"axis":null},
       "y":{"field":"lvl","type":"quantitative","scale":{"domain":[0,24],"reverse":true,"nice":false,"zero":false},"axis":null},"text":{"field":"t"}}}
   ]}
  ]},
 {"spacing":51,"bounds":"flush","resolve":{"scale":{"color":"independent","fill":"independent","size":"independent"}},"hconcat":[
  {"width":159,"height":134,"view":{"stroke":"#333","strokeWidth":1},
   "title":{"text":"D","anchor":"start","frame":"group","dx":-28,"offset":10,"font":"Liberation Serif","fontSize":15,"fontWeight":"normal","color":"#1a1a1a","baseline":"bottom"},
   "layer":[
    {"data":{"name":"dRug"},"mark":{"type":"rule","color":"#8c8c8c","strokeWidth":1},
     "encoding":{"x":{"field":"p","type":"quantitative","scale":{"domain":[0.5846,1.0136],"nice":false,"zero":false},"axis":{"values":[0.6,0.7,0.8,0.9,1.0],"format":".1f","tickSize":3,"tickColor":"#444","labelPadding":2,"labelFontSize":8.5,"labelColor":"#444","labelOverlap":false,"title":"Nomogram-predicted OS (%)","titleFontSize":8.5,"titleFontWeight":"normal","titleColor":"#444","titlePadding":9}},
      "y":{"field":"lo","type":"quantitative","scale":{"domain":[0.5827,1.0219],"nice":false,"zero":false},"axis":{"values":[0.6,0.7,0.8,0.9,1.0],"format":".1f","tickSize":3,"tickColor":"#444","labelAngle":-90,"labelAlign":"center","labelBaseline":"bottom","labelPadding":1,"labelFontSize":8.5,"labelColor":"#444","labelOverlap":false,"title":"Observed OS (%)","titleFontSize":8.5,"titleFontWeight":"normal","titleColor":"#444","titlePadding":8}},
      "y2":{"datum":1.0219}}},
    {"data":{"values":[{"a":0.5946,"b":1.0,"y":1.0195}]},"mark":{"type":"rule","color":"#333","strokeWidth":1.5},
     "encoding":{"x":{"field":"a","type":"quantitative","scale":{"domain":[0.5846,1.0136],"nice":false,"zero":false},"axis":{"values":[0.6,0.7,0.8,0.9,1.0],"format":".1f","tickSize":3,"tickColor":"#444","labelPadding":2,"labelFontSize":8.5,"labelColor":"#444","labelOverlap":false,"title":"Nomogram-predicted OS (%)","titleFontSize":8.5,"titleFontWeight":"normal","titleColor":"#444","titlePadding":9}},"x2":{"field":"b"},
      "y":{"field":"y","type":"quantitative","scale":{"domain":[0.5827,1.0219],"nice":false,"zero":false},"axis":{"values":[0.6,0.7,0.8,0.9,1.0],"format":".1f","tickSize":3,"tickColor":"#444","labelAngle":-90,"labelAlign":"center","labelBaseline":"bottom","labelPadding":1,"labelFontSize":8.5,"labelColor":"#444","labelOverlap":false,"title":"Observed OS (%)","titleFontSize":8.5,"titleFontWeight":"normal","titleColor":"#444","titlePadding":8}}}},
    {"data":{"values":[{"x":0.55,"y":0.55},{"x":1.05,"y":1.05}]},"mark":{"type":"line","color":"#dcdcdc","strokeWidth":1,"clip":true},
     "encoding":{"x":{"field":"x","type":"quantitative","scale":{"domain":[0.5846,1.0136],"nice":false,"zero":false},"axis":{"values":[0.6,0.7,0.8,0.9,1.0],"format":".1f","tickSize":3,"tickColor":"#444","labelPadding":2,"labelFontSize":8.5,"labelColor":"#444","labelOverlap":false,"title":"Nomogram-predicted OS (%)","titleFontSize":8.5,"titleFontWeight":"normal","titleColor":"#444","titlePadding":9}},
      "y":{"field":"y","type":"quantitative","scale":{"domain":[0.5827,1.0219],"nice":false,"zero":false},"axis":{"values":[0.6,0.7,0.8,0.9,1.0],"format":".1f","tickSize":3,"tickColor":"#444","labelAngle":-90,"labelAlign":"center","labelBaseline":"bottom","labelPadding":1,"labelFontSize":8.5,"labelColor":"#444","labelOverlap":false,"title":"Observed OS (%)","titleFontSize":8.5,"titleFontWeight":"normal","titleColor":"#444","titlePadding":8}}}},
    {"data":{"name":"dCal"},"mark":{"type":"line","strokeWidth":1},
     "encoding":{"x":{"field":"x","type":"quantitative","scale":{"domain":[0.5846,1.0136],"nice":false,"zero":false},"axis":{"values":[0.6,0.7,0.8,0.9,1.0],"format":".1f","tickSize":3,"tickColor":"#444","labelPadding":2,"labelFontSize":8.5,"labelColor":"#444","labelOverlap":false,"title":"Nomogram-predicted OS (%)","titleFontSize":8.5,"titleFontWeight":"normal","titleColor":"#444","titlePadding":9}},
      "y":{"field":"y","type":"quantitative","scale":{"domain":[0.5827,1.0219],"nice":false,"zero":false},"axis":{"values":[0.6,0.7,0.8,0.9,1.0],"format":".1f","tickSize":3,"tickColor":"#444","labelAngle":-90,"labelAlign":"center","labelBaseline":"bottom","labelPadding":1,"labelFontSize":8.5,"labelColor":"#444","labelOverlap":false,"title":"Observed OS (%)","titleFontSize":8.5,"titleFontWeight":"normal","titleColor":"#444","titlePadding":8}},
      "color":{"field":"g","type":"nominal","scale":{"domain":["1-year","3-year","5-year"],"range":["#49e049","#5050ff","#ff5c5c"]},"legend":null}}},
    {"data":{"name":"dCal"},"mark":{"type":"rule","color":"#333","strokeWidth":1.2},
     "encoding":{"x":{"field":"x","type":"quantitative","scale":{"domain":[0.5846,1.0136],"nice":false,"zero":false},"axis":{"values":[0.6,0.7,0.8,0.9,1.0],"format":".1f","tickSize":3,"tickColor":"#444","labelPadding":2,"labelFontSize":8.5,"labelColor":"#444","labelOverlap":false,"title":"Nomogram-predicted OS (%)","titleFontSize":8.5,"titleFontWeight":"normal","titleColor":"#444","titlePadding":9}},
      "y":{"field":"lo","type":"quantitative","scale":{"domain":[0.5827,1.0219],"nice":false,"zero":false},"axis":{"values":[0.6,0.7,0.8,0.9,1.0],"format":".1f","tickSize":3,"tickColor":"#444","labelAngle":-90,"labelAlign":"center","labelBaseline":"bottom","labelPadding":1,"labelFontSize":8.5,"labelColor":"#444","labelOverlap":false,"title":"Observed OS (%)","titleFontSize":8.5,"titleFontWeight":"normal","titleColor":"#444","titlePadding":8}},"y2":{"field":"hi"}}},
    {"data":{"name":"dCal"},"mark":{"type":"point","shape":"M-1,0L1,0","size":25,"filled":false,"color":"#333","strokeWidth":1.2,"opacity":1},
     "encoding":{"x":{"field":"x","type":"quantitative","scale":{"domain":[0.5846,1.0136],"nice":false,"zero":false},"axis":{"values":[0.6,0.7,0.8,0.9,1.0],"format":".1f","tickSize":3,"tickColor":"#444","labelPadding":2,"labelFontSize":8.5,"labelColor":"#444","labelOverlap":false,"title":"Nomogram-predicted OS (%)","titleFontSize":8.5,"titleFontWeight":"normal","titleColor":"#444","titlePadding":9}},
      "y":{"field":"lo","type":"quantitative","scale":{"domain":[0.5827,1.0219],"nice":false,"zero":false},"axis":{"values":[0.6,0.7,0.8,0.9,1.0],"format":".1f","tickSize":3,"tickColor":"#444","labelAngle":-90,"labelAlign":"center","labelBaseline":"bottom","labelPadding":1,"labelFontSize":8.5,"labelColor":"#444","labelOverlap":false,"title":"Observed OS (%)","titleFontSize":8.5,"titleFontWeight":"normal","titleColor":"#444","titlePadding":8}}}},
    {"data":{"name":"dCal"},"mark":{"type":"point","shape":"M-1,0L1,0","size":25,"filled":false,"color":"#333","strokeWidth":1.2,"opacity":1},
     "encoding":{"x":{"field":"x","type":"quantitative","scale":{"domain":[0.5846,1.0136],"nice":false,"zero":false},"axis":{"values":[0.6,0.7,0.8,0.9,1.0],"format":".1f","tickSize":3,"tickColor":"#444","labelPadding":2,"labelFontSize":8.5,"labelColor":"#444","labelOverlap":false,"title":"Nomogram-predicted OS (%)","titleFontSize":8.5,"titleFontWeight":"normal","titleColor":"#444","titlePadding":9}},
      "y":{"field":"hi","type":"quantitative","scale":{"domain":[0.5827,1.0219],"nice":false,"zero":false},"axis":{"values":[0.6,0.7,0.8,0.9,1.0],"format":".1f","tickSize":3,"tickColor":"#444","labelAngle":-90,"labelAlign":"center","labelBaseline":"bottom","labelPadding":1,"labelFontSize":8.5,"labelColor":"#444","labelOverlap":false,"title":"Observed OS (%)","titleFontSize":8.5,"titleFontWeight":"normal","titleColor":"#444","titlePadding":8}}}},
    {"data":{"name":"dBlack"},"mark":{"type":"point","shape":"square","filled":true,"size":16,"color":"#111","opacity":1},
     "encoding":{"x":{"field":"x","type":"quantitative","scale":{"domain":[0.5846,1.0136],"nice":false,"zero":false},"axis":{"values":[0.6,0.7,0.8,0.9,1.0],"format":".1f","tickSize":3,"tickColor":"#444","labelPadding":2,"labelFontSize":8.5,"labelColor":"#444","labelOverlap":false,"title":"Nomogram-predicted OS (%)","titleFontSize":8.5,"titleFontWeight":"normal","titleColor":"#444","titlePadding":9}},
      "y":{"field":"y","type":"quantitative","scale":{"domain":[0.5827,1.0219],"nice":false,"zero":false},"axis":{"values":[0.6,0.7,0.8,0.9,1.0],"format":".1f","tickSize":3,"tickColor":"#444","labelAngle":-90,"labelAlign":"center","labelBaseline":"bottom","labelPadding":1,"labelFontSize":8.5,"labelColor":"#444","labelOverlap":false,"title":"Observed OS (%)","titleFontSize":8.5,"titleFontWeight":"normal","titleColor":"#444","titlePadding":8}}}},
    {"data":{"name":"dCal"},"mark":{"type":"point","shape":"square","filled":true,"size":25,"opacity":1},
     "encoding":{"x":{"field":"x","type":"quantitative","scale":{"domain":[0.5846,1.0136],"nice":false,"zero":false},"axis":{"values":[0.6,0.7,0.8,0.9,1.0],"format":".1f","tickSize":3,"tickColor":"#444","labelPadding":2,"labelFontSize":8.5,"labelColor":"#444","labelOverlap":false,"title":"Nomogram-predicted OS (%)","titleFontSize":8.5,"titleFontWeight":"normal","titleColor":"#444","titlePadding":9}},
      "y":{"field":"y","type":"quantitative","scale":{"domain":[0.5827,1.0219],"nice":false,"zero":false},"axis":{"values":[0.6,0.7,0.8,0.9,1.0],"format":".1f","tickSize":3,"tickColor":"#444","labelAngle":-90,"labelAlign":"center","labelBaseline":"bottom","labelPadding":1,"labelFontSize":8.5,"labelColor":"#444","labelOverlap":false,"title":"Observed OS (%)","titleFontSize":8.5,"titleFontWeight":"normal","titleColor":"#444","titlePadding":8}},
      "fill":{"field":"g","type":"nominal","scale":{"domain":["1-year","3-year","5-year"],"range":["#2f9e5a","#0b0bef","#9a1650"]},"legend":null}}},
    {"data":{"name":"dLeg"},"mark":{"type":"rule","strokeWidth":1},
     "encoding":{"x":{"field":"a","type":"quantitative","scale":{"domain":[0.5846,1.0136],"nice":false,"zero":false},"axis":{"values":[0.6,0.7,0.8,0.9,1.0],"format":".1f","tickSize":3,"tickColor":"#444","labelPadding":2,"labelFontSize":8.5,"labelColor":"#444","labelOverlap":false,"title":"Nomogram-predicted OS (%)","titleFontSize":8.5,"titleFontWeight":"normal","titleColor":"#444","titlePadding":9}},"x2":{"field":"b"},
      "y":{"field":"y","type":"quantitative","scale":{"domain":[0.5827,1.0219],"nice":false,"zero":false},"axis":{"values":[0.6,0.7,0.8,0.9,1.0],"format":".1f","tickSize":3,"tickColor":"#444","labelAngle":-90,"labelAlign":"center","labelBaseline":"bottom","labelPadding":1,"labelFontSize":8.5,"labelColor":"#444","labelOverlap":false,"title":"Observed OS (%)","titleFontSize":8.5,"titleFontWeight":"normal","titleColor":"#444","titlePadding":8}},
      "color":{"field":"g","type":"nominal","scale":{"domain":["1-year","3-year","5-year"],"range":["#49e049","#5050ff","#ff5c5c"]},"legend":null}}},
    {"data":{"name":"dLeg"},"mark":{"type":"text","align":"left","baseline":"middle","fontSize":8.2,"color":"#444","clip":true},
     "encoding":{"x":{"field":"tx","type":"quantitative","scale":{"domain":[0.5846,1.0136],"nice":false,"zero":false},"axis":{"values":[0.6,0.7,0.8,0.9,1.0],"format":".1f","tickSize":3,"tickColor":"#444","labelPadding":2,"labelFontSize":8.5,"labelColor":"#444","labelOverlap":false,"title":"Nomogram-predicted OS (%)","titleFontSize":8.5,"titleFontWeight":"normal","titleColor":"#444","titlePadding":9}},
      "y":{"field":"y","type":"quantitative","scale":{"domain":[0.5827,1.0219],"nice":false,"zero":false},"axis":{"values":[0.6,0.7,0.8,0.9,1.0],"format":".1f","tickSize":3,"tickColor":"#444","labelAngle":-90,"labelAlign":"center","labelBaseline":"bottom","labelPadding":1,"labelFontSize":8.5,"labelColor":"#444","labelOverlap":false,"title":"Observed OS (%)","titleFontSize":8.5,"titleFontWeight":"normal","titleColor":"#444","titlePadding":8}},
      "text":{"field":"g"}}}
   ]},
  {"width":159,"height":134,"view":{"stroke":"#333","strokeWidth":1},
   "title":{"text":"E","anchor":"start","frame":"group","dx":-34,"offset":10,"font":"Liberation Serif","fontSize":15,"fontWeight":"normal","color":"#1a1a1a","baseline":"bottom"},
   "layer":[
    {"data":{"values":[{"x":0,"y":0},{"x":1,"y":1}]},"mark":{"type":"line","color":"#444","strokeWidth":1,"strokeDash":[2,2]},
     "encoding":{"x":{"field":"x","type":"quantitative","scale":{"domain":[-0.04,1.04],"nice":false,"zero":false},"axis":{"values":[0,0.2,0.4,0.6,0.8,1.0],"format":".1f","tickSize":5,"tickColor":"#444","labelPadding":1,"labelFontSize":8.5,"labelColor":"#444","labelOverlap":false,"title":"1-Specificity","titleFontSize":8.5,"titleFontWeight":"normal","titleColor":"#444","titlePadding":9}},
      "y":{"field":"y","type":"quantitative","scale":{"domain":[-0.04,1.04],"nice":false,"zero":false},"axis":{"values":[0,0.2,0.4,0.6,0.8,1.0],"format":".1f","tickSize":5,"tickColor":"#444","labelAngle":-90,"labelAlign":"center","labelBaseline":"bottom","labelPadding":2,"labelFontSize":8.5,"labelColor":"#444","labelOverlap":false,"title":"Sensitivity","titleFontSize":8.5,"titleFontWeight":"normal","titleColor":"#444","titlePadding":9}}}},
    {"data":{"name":"eRoc"},"mark":{"type":"line","strokeWidth":1.6},
     "encoding":{"x":{"field":"x","type":"quantitative","scale":{"domain":[-0.04,1.04],"nice":false,"zero":false},"axis":{"values":[0,0.2,0.4,0.6,0.8,1.0],"format":".1f","tickSize":5,"tickColor":"#444","labelPadding":1,"labelFontSize":8.5,"labelColor":"#444","labelOverlap":false,"title":"1-Specificity","titleFontSize":8.5,"titleFontWeight":"normal","titleColor":"#444","titlePadding":9}},
      "y":{"field":"y","type":"quantitative","scale":{"domain":[-0.04,1.04],"nice":false,"zero":false},"axis":{"values":[0,0.2,0.4,0.6,0.8,1.0],"format":".1f","tickSize":5,"tickColor":"#444","labelAngle":-90,"labelAlign":"center","labelBaseline":"bottom","labelPadding":2,"labelFontSize":8.5,"labelColor":"#444","labelOverlap":false,"title":"Sensitivity","titleFontSize":8.5,"titleFontWeight":"normal","titleColor":"#444","titlePadding":9}},
      "order":{"field":"i","type":"quantitative"},
      "color":{"field":"g","type":"nominal","scale":{"domain":["1-year","3-year","5-year"],"range":["#3cf03c","#1e1eee","#ee1e1e"]},"legend":null}}},
    {"data":{"name":"eLeg"},"mark":{"type":"rule","strokeWidth":1.6},
     "encoding":{"x":{"field":"a","type":"quantitative","scale":{"domain":[-0.04,1.04],"nice":false,"zero":false},"axis":{"values":[0,0.2,0.4,0.6,0.8,1.0],"format":".1f","tickSize":5,"tickColor":"#444","labelPadding":1,"labelFontSize":8.5,"labelColor":"#444","labelOverlap":false,"title":"1-Specificity","titleFontSize":8.5,"titleFontWeight":"normal","titleColor":"#444","titlePadding":9}},"x2":{"field":"b"},
      "y":{"field":"y","type":"quantitative","scale":{"domain":[-0.04,1.04],"nice":false,"zero":false},"axis":{"values":[0,0.2,0.4,0.6,0.8,1.0],"format":".1f","tickSize":5,"tickColor":"#444","labelAngle":-90,"labelAlign":"center","labelBaseline":"bottom","labelPadding":2,"labelFontSize":8.5,"labelColor":"#444","labelOverlap":false,"title":"Sensitivity","titleFontSize":8.5,"titleFontWeight":"normal","titleColor":"#444","titlePadding":9}},
      "color":{"field":"g","type":"nominal","scale":{"domain":["1-year","3-year","5-year"],"range":["#3cf03c","#1e1eee","#ee1e1e"]},"legend":null}}},
    {"data":{"name":"eLeg"},"mark":{"type":"text","align":"left","baseline":"middle","fontSize":9,"color":"#333","clip":true},
     "encoding":{"x":{"field":"tx","type":"quantitative","scale":{"domain":[-0.04,1.04],"nice":false,"zero":false},"axis":{"values":[0,0.2,0.4,0.6,0.8,1.0],"format":".1f","tickSize":5,"tickColor":"#444","labelPadding":1,"labelFontSize":8.5,"labelColor":"#444","labelOverlap":false,"title":"1-Specificity","titleFontSize":8.5,"titleFontWeight":"normal","titleColor":"#444","titlePadding":9}},
      "y":{"field":"y","type":"quantitative","scale":{"domain":[-0.04,1.04],"nice":false,"zero":false},"axis":{"values":[0,0.2,0.4,0.6,0.8,1.0],"format":".1f","tickSize":5,"tickColor":"#444","labelAngle":-90,"labelAlign":"center","labelBaseline":"bottom","labelPadding":2,"labelFontSize":8.5,"labelColor":"#444","labelOverlap":false,"title":"Sensitivity","titleFontSize":8.5,"titleFontWeight":"normal","titleColor":"#444","titlePadding":9}},
      "text":{"field":"t"}}}
   ]}
 ]}
]}
]
}
